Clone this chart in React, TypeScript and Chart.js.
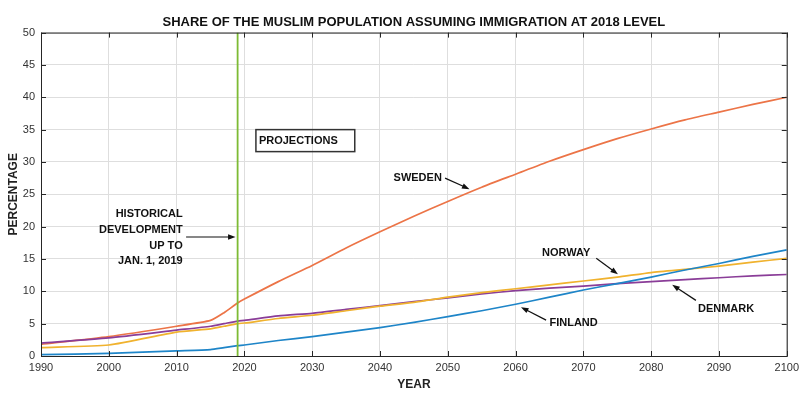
import React, { useEffect, useRef } from "react";
import { Chart, registerables } from "chart.js";

Chart.register(...registerables);

// years
const years = [
  1990, 2000, 2010, 2015, 2017, 2019, 2020, 2025, 2030, 2035, 2040, 2045, 2050,
  2055, 2060, 2065, 2070, 2075, 2080, 2085, 2090, 2095, 2100,
];

const sweden = [
  1.8, 3.0, 4.6, 5.5, 6.7, 8.2, 8.8, 11.5, 14.0, 16.7, 19.2, 21.6, 23.9, 26.1,
  28.1, 30.1, 31.9, 33.6, 35.1, 36.5, 37.7, 38.9, 40.0,
];
const norway = [
  1.3, 1.7, 3.7, 4.2, 4.6, 5.0, 5.1, 5.8, 6.3, 7.0, 7.7, 8.3, 9.1, 9.8, 10.4,
  11.0, 11.6, 12.2, 12.9, 13.4, 13.9, 14.5, 15.1,
];
const denmark = [
  2.0, 2.8, 4.0, 4.6, 5.0, 5.4, 5.5, 6.2, 6.6, 7.2, 7.8, 8.4, 9.0, 9.6, 10.1,
  10.5, 10.8, 11.2, 11.5, 11.8, 12.1, 12.4, 12.6,
];
const finland = [
  0.2, 0.4, 0.8, 1.0, 1.3, 1.6, 1.7, 2.4, 3.0, 3.7, 4.4, 5.2, 6.1, 7.0, 8.0,
  9.1, 10.2, 11.2, 12.2, 13.3, 14.3, 15.4, 16.4,
];

// vertical line marking the end of the historical data
const cutoffX = [2019, 2019];
const cutoffY = [0, 50];

const xTicks = [1990, 2000, 2010, 2020, 2030, 2040, 2050, 2060, 2070, 2080, 2090, 2100];
const yTicks = [0, 5, 10, 15, 20, 25, 30, 35, 40, 45, 50];

const FONT = "'Liberation Sans', Arial, sans-serif";
const INK = "#111111";

const pts = (xs: number[], ys: number[]) => xs.map((x, i) => ({ x, y: ys[i] }));

// text labels + arrows, positioned in data units
const labels = [
  { text: "SWEDEN", x: 2042.0, y: 27.6 },
  { text: "NORWAY", x: 2063.9, y: 16.0 },
  { text: "DENMARK", x: 2086.9, y: 7.25 },
  { text: "FINLAND", x: 2065.0, y: 5.1 },
];
const arrows = [
  { from: [2011.4, 18.4], to: [2018.7, 18.4] },
  { from: [2049.6, 27.5], to: [2053.2, 25.8] },
  { from: [2071.9, 15.1], to: [2075.1, 12.65] },
  { from: [2086.6, 8.6], to: [2083.1, 11.0] },
  { from: [2064.5, 5.55], to: [2060.8, 7.55] },
];
const historyLines = ["HISTORICAL", "DEVELOPMENT", "UP TO", "JAN. 1, 2019"];

const annotations = {
  id: "annotations",
  afterDraw(chart: any) {
    const { ctx, chartArea: a, scales } = chart;
    const xs = scales.x;
    const ys = scales.y;
    const px = (v: number) => xs.getPixelForValue(v);
    const py = (v: number) => ys.getPixelForValue(v);
    ctx.save();

    // box + inward ticks (matlab style)
    ctx.strokeStyle = "#262626";
    ctx.lineWidth = 1;
    ctx.strokeRect(a.left + 0.5, a.top + 0.5, a.right - a.left, a.bottom - a.top);
    ctx.beginPath();
    xTicks.forEach((t) => {
      const x = Math.round(px(t)) + 0.5;
      ctx.moveTo(x, a.bottom);
      ctx.lineTo(x, a.bottom - 5);
      ctx.moveTo(x, a.top);
      ctx.lineTo(x, a.top + 5);
    });
    yTicks.forEach((t) => {
      const y = Math.round(py(t)) + 0.5;
      ctx.moveTo(a.left, y);
      ctx.lineTo(a.left + 5, y);
      ctx.moveTo(a.right, y);
      ctx.lineTo(a.right - 5, y);
    });
    ctx.stroke();

    ctx.fillStyle = INK;
    ctx.font = `bold 11px ${FONT}`;
    ctx.textBaseline = "middle";

    ctx.textAlign = "left";
    labels.forEach((l) => ctx.fillText(l.text, px(l.x), py(l.y)));

    ctx.textAlign = "right";
    historyLines.forEach((t, i) => ctx.fillText(t, px(2010.9), py(21.9) + i * 15.7));

    // projections box
    ctx.textAlign = "left";
    const bx = px(2021.7);
    const by = py(35.0);
    const tw = ctx.measureText("PROJECTIONS").width;
    ctx.lineWidth = 1.5;
    ctx.strokeStyle = "#333";
    ctx.strokeRect(bx, by, tw + 20, 22);
    ctx.fillText("PROJECTIONS", bx + 3, by + 11);

    // arrows
    ctx.strokeStyle = INK;
    ctx.lineWidth = 1.2;
    arrows.forEach((ar) => {
      const x1 = px(ar.from[0]);
      const y1 = py(ar.from[1]);
      const x2 = px(ar.to[0]);
      const y2 = py(ar.to[1]);
      const ang = Math.atan2(y2 - y1, x2 - x1);
      ctx.beginPath();
      ctx.moveTo(x1, y1);
      ctx.lineTo(x2 - 5 * Math.cos(ang), y2 - 5 * Math.sin(ang));
      ctx.stroke();
      ctx.beginPath();
      ctx.moveTo(x2, y2);
      ctx.lineTo(x2 - 8 * Math.cos(ang - 0.35), y2 - 8 * Math.sin(ang - 0.35));
      ctx.lineTo(x2 - 8 * Math.cos(ang + 0.35), y2 - 8 * Math.sin(ang + 0.35));
      ctx.closePath();
      ctx.fill();
    });

    ctx.restore();
  },
};

const line = (label: string, data: number[], color: string) => ({
  label,
  data: pts(years, data),
  borderColor: color,
  backgroundColor: color,
  borderWidth: 1.7,
  pointRadius: 0,
  tension: 0.2,
  fill: false,
});

const App = () => {
  const canvasRef = useRef<HTMLCanvasElement>(null);

  useEffect(() => {
    document.body.style.margin = "0";
    if (!canvasRef.current) return;
    const chart = new Chart(canvasRef.current, {
      type: "line",
      data: {
        datasets: [
          {
            label: "2019",
            data: pts(cutoffX, cutoffY),
            borderColor: "#7DBB34",
            borderWidth: 1.8,
            pointRadius: 0,
            fill: false,
          },
          line("Finland", finland, "#1E85C8"),
          line("Norway", norway, "#F0B22E"),
          line("Denmark", denmark, "#8A3D98"),
          line("Sweden", sweden, "#EC7447"),
        ],
      },
      options: {
        responsive: false,
        animation: false,
        layout: { padding: { left: 0, right: 13, top: 0, bottom: 0 } },
        plugins: {
          legend: { display: false },
          tooltip: { enabled: false },
          title: {
            display: true,
            fullSize: false,
            text: "SHARE OF THE MUSLIM POPULATION ASSUMING IMMIGRATION AT 2018 LEVEL",
            color: INK,
            font: { family: FONT, size: 13, weight: "bold" },
            padding: { top: 15, bottom: 2 },
          },
        },
        scales: {
          x: {
            type: "linear",
            min: 1990,
            max: 2100,
            afterBuildTicks: (s: any) => {
              s.ticks = xTicks.map((v) => ({ value: v }));
            },
            afterFit: (s: any) => {
              s.height = 54;
            },
            ticks: {
              color: "#333",
              font: { family: FONT, size: 11 },
              padding: 5,
              maxRotation: 0,
              autoSkip: false,
              callback: (v: any) => String(v),
            },
            grid: { color: "#dedede", drawTicks: false },
            border: { display: false },
            title: {
              display: true,
              text: "YEAR",
              color: "#222",
              font: { family: FONT, size: 12, weight: "bold" },
              padding: { top: 4, bottom: 18 },
            },
          },
          y: {
            type: "linear",
            min: 0,
            max: 50,
            afterBuildTicks: (s: any) => {
              s.ticks = yTicks.map((v) => ({ value: v }));
            },
            afterFit: (s: any) => {
              s.width = 41;
            },
            ticks: {
              color: "#333",
              font: { family: FONT, size: 11 },
              padding: 6,
              callback: (v: any) => String(v),
            },
            grid: { color: "#dedede", drawTicks: false },
            border: { display: false },
            title: {
              display: true,
              text: "PERCENTAGE",
              color: "#222",
              font: { family: FONT, size: 12, weight: "bold" },
              padding: { top: 6, bottom: 0 },
            },
          },
        },
      },
      plugins: [annotations],
    });
    return () => chart.destroy();
  }, []);

  return (
    <div style={{ position: "relative", width: 804, height: 410, background: "#fff" }}>
      <canvas ref={canvasRef} width={804} height={410} />
    </div>
  );
};

export default App;
